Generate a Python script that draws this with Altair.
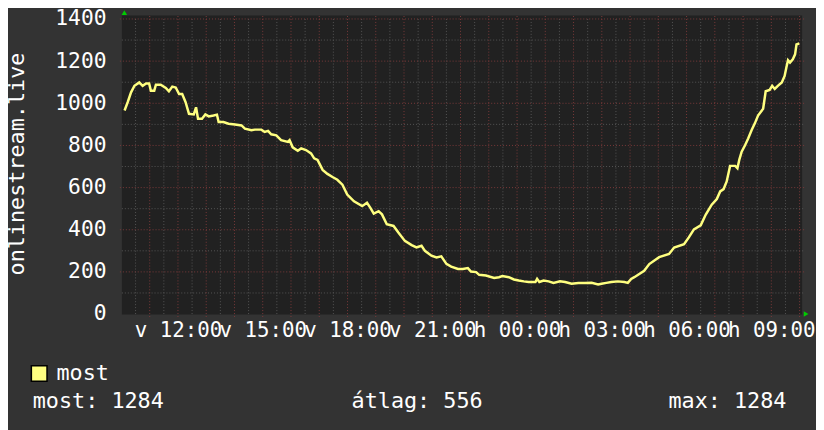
import altair as alt
import pandas as pd

# ---- data (hours since Sunday 00:00, visitors) ----
hours = [10.11, 10.22, 10.34, 10.46, 10.63, 10.75, 10.87, 10.98, 11.04, 11.16, 11.22, 11.39,
         11.57, 11.68, 11.80, 11.92, 12.04, 12.15, 12.27, 12.39, 12.56, 12.64, 12.71, 12.85,
         12.97, 13.09, 13.26, 13.38, 13.44, 13.61, 13.79, 14.02, 14.25, 14.37, 14.60, 14.72,
         14.95, 15.07, 15.19, 15.30, 15.48, 15.65, 15.89, 15.95, 16.06, 16.24, 16.36, 16.53,
         16.71, 16.82, 16.94, 17.12, 17.29, 17.47, 17.64, 17.82, 17.99, 18.23, 18.52, 18.69,
         18.81, 18.93, 19.10, 19.22, 19.39, 19.63, 19.80, 20.03, 20.27, 20.44, 20.62, 20.74,
         20.97, 21.15, 21.32, 21.50, 21.67, 21.91, 22.08, 22.26, 22.37, 22.55, 22.66, 22.90,
         23.19, 23.36, 23.48, 23.71, 23.89, 24.06, 24.24, 24.41, 24.65, 24.71, 24.79, 24.94,
         25.12, 25.29, 25.52, 25.70, 25.93, 26.17, 26.40, 26.64, 26.87, 26.99, 27.16, 27.34,
         27.57, 27.80, 27.92, 28.04, 28.15, 28.50, 28.68, 29.03, 29.38, 29.56, 29.91, 30.08,
         30.26, 30.50, 30.68, 30.89, 31.07, 31.19, 31.31, 31.42, 31.54, 31.72, 31.80, 31.87,
         31.95, 32.07, 32.18, 32.30, 32.42, 32.53, 32.71, 32.80, 32.94, 33.03, 33.12, 33.23,
         33.37, 33.47, 33.53, 33.59, 33.66, 33.76, 33.84, 33.89, 33.99]
visitors = [966, 1005, 1052, 1083, 1099, 1083, 1094, 1094, 1060, 1060, 1088, 1088,
            1073, 1057, 1079, 1075, 1044, 1044, 1005, 950, 947, 981, 927, 927,
            947, 938, 942, 946, 911, 911, 903, 899, 895, 880, 872, 875,
            875, 864, 869, 853, 848, 825, 817, 825, 791, 775, 786, 778,
            762, 739, 731, 684, 665, 650, 637, 614, 567, 535, 512, 528,
            504, 477, 488, 473, 426, 418, 387, 347, 327, 316, 324, 300,
            277, 269, 274, 238, 225, 214, 214, 218, 202, 199, 186, 183,
            171, 175, 180, 175, 164, 159, 155, 152, 152, 167, 152, 159,
            155, 148, 156, 152, 144, 147, 147, 148, 140, 144, 148, 152,
            155, 152, 148, 167, 175, 205, 237, 270, 285, 316, 331, 364,
            402, 421, 472, 519, 546, 582, 593, 629, 703, 703, 692, 734,
            770, 801, 833, 872, 906, 942, 974, 1057, 1063, 1083, 1068, 1083,
            1099, 1130, 1169, 1204, 1193, 1209, 1232, 1279, 1284]

series_name = "most"
y_title = "onlinestream.live"
x_label_hours = [12, 15, 18, 21, 24, 27, 30, 33]
major_x = list(range(11, 35))
minor_x = [h + 0.5 for h in range(10, 34)]
major_y = [200, 400, 600, 800, 1000, 1200, 1400]
minor_y = [100, 300, 500, 700, 900, 1100, 1300]
stat_names = ["most", "átlag", "max"]
stat_values = [1284, 556, 1284]

FONT = "DejaVu Sans Mono"
W, H = 686, 298
xscale = alt.Scale(domain=[10.05, 34.09], nice=False, zero=False)
yscale = alt.Scale(domain=[0, 1400], nice=False)

label_expr = ("(datum.value < 24 ? 'v ' : 'h ') + (datum.value % 24 < 10 ? '0' : '') "
              "+ (datum.value % 24) + ':00'")
xaxis = alt.Axis(values=x_label_hours, labelExpr=label_expr, grid=False, ticks=False,
                 tickSize=0, domain=False, labelPadding=6, labelFont=FONT,
                 labelFontSize=21, labelColor="#ffffff", labelAlign="center",
                 labelBaseline="top", labelOverlap=False, labelFlush=False)
yaxis = alt.Axis(values=[0] + major_y, format="d", grid=False, ticks=False, tickSize=0,
                 domain=False, labelPadding=17, labelFont=FONT, labelFontSize=21.5,
                 labelColor="#ffffff", titleFont=FONT, titleFontSize=22,
                 titleFontWeight="normal", titleColor="#ffffff", titleAngle=-90,
                 titleX=-100, titleY=146, titleAlign="center",
                 titleBaseline="alphabetic")


def X(field):
    return alt.X(field, scale=xscale, axis=xaxis, title=None)


def Y(field):
    return alt.Y(field, scale=yscale, axis=yaxis, title=y_title)


df = pd.DataFrame({"h": hours, "v": visitors})
one = alt.Data(values=[{"a": 1}])

canvas = alt.Chart(one).mark_rect(color="#212121").encode(
    x=alt.value(-1), x2=alt.value(W), y=alt.value(-3.5), y2=alt.value(H + 0.5)
)

vminor = alt.Chart(pd.DataFrame({"h": minor_x})).mark_rule(
    color="#555555", strokeDash=[1, 2], strokeWidth=1
).encode(x=X("h:Q"), y=alt.value(0), y2=alt.value(H + 2))

vmajor = alt.Chart(pd.DataFrame({"h": major_x})).mark_rule(
    color="#7a3a3a", strokeDash=[1, 2], strokeWidth=1
).encode(x=X("h:Q"), y=alt.value(-3), y2=alt.value(H + 3))

hminor = alt.Chart(pd.DataFrame({"v": minor_y})).mark_rule(
    color="#555555", strokeDash=[1, 2], strokeWidth=1
).encode(y=Y("v:Q"), x=alt.value(-1), x2=alt.value(W + 2))

hmajor = alt.Chart(pd.DataFrame({"v": major_y})).mark_rule(
    color="#7a3a3a", strokeDash=[1, 2], strokeWidth=1
).encode(y=Y("v:Q"), x=alt.value(-3), x2=alt.value(W + 3))

line = alt.Chart(df).mark_line(color="#ffff80", strokeWidth=2.5, interpolate="linear").encode(
    x=X("h:Q"), y=Y("v:Q"),
)

arrow_up = alt.Chart(one).mark_point(shape="triangle-up", filled=True, color="#00cc00",
                                      size=30, opacity=1).encode(
    x=alt.value(1.5), y=alt.value(-6.5))
arrow_right = alt.Chart(one).mark_point(shape="triangle-right", filled=True, color="#00cc00",
                                         size=30, opacity=1).encode(
    x=alt.value(W + 4), y=alt.value(H))

legend_box = alt.Chart(one).mark_square(size=250, fill="#ffff80", stroke="#000000",
                                        strokeWidth=1.5, opacity=1).encode(
    x=alt.value(-84.5), y=alt.value(358))
text_style = dict(align="left", baseline="middle", font=FONT, fontSize=22, color="#ffffff")
legend_text = alt.Chart(one).mark_text(**text_style).encode(
    x=alt.value(-67), y=alt.value(358), text=alt.value(series_name))

stat_x = [-91, 231, 551]
stats = [
    alt.Chart(one).mark_text(**text_style).encode(
        x=alt.value(sx), y=alt.value(386), text=alt.value(f"{n}: {v}"))
    for sx, n, v in zip(stat_x, stat_names, stat_values)
]

chart = alt.layer(canvas, vminor, hminor, vmajor, hmajor, line, arrow_up, arrow_right,
                  legend_box, legend_text, *stats).properties(
    width=W, height=H,
    autosize=alt.AutoSizeParams(type="none"),
    padding={"left": 116, "top": 9, "right": 14, "bottom": 115},
    background="#333333",
).configure_view(stroke=None, fill=None)

chart.save("out.html", embed_options={"renderer": "svg", "actions": False})
